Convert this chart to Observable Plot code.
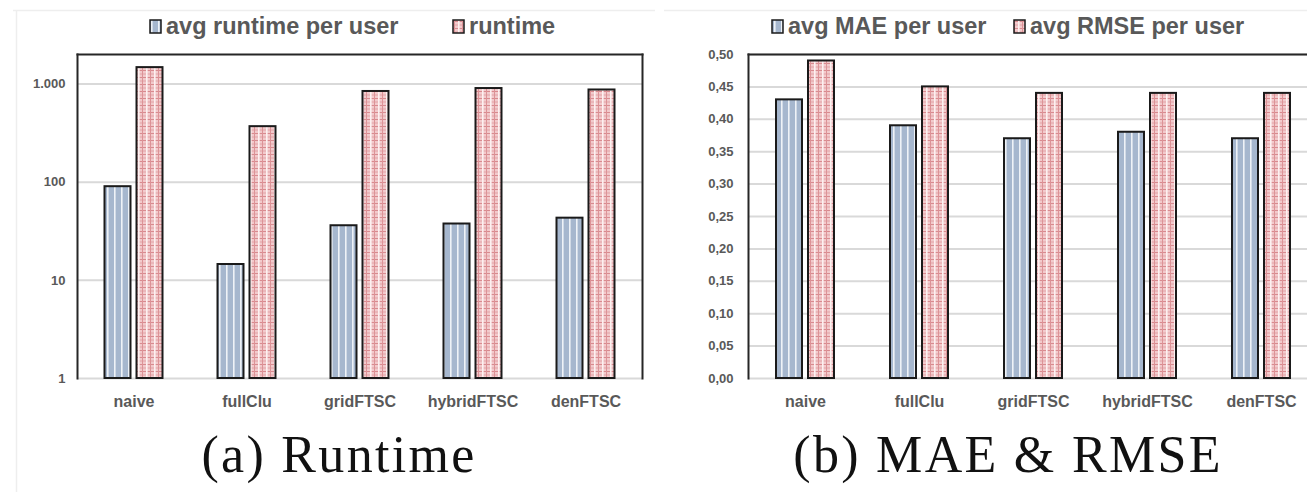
<!DOCTYPE html>
<html><head><meta charset="utf-8">
<script src="https://cdn.jsdelivr.net/npm/d3@7"></script>
<script src="https://cdn.jsdelivr.net/npm/@observablehq/plot@0.6"></script>
<style>
body{margin:0;background:#fff;}
#page{position:relative;width:1307px;height:492px;overflow:hidden;background:#fff;}
#page > svg.chart{position:absolute;top:0;}
.chart g[aria-label^="x-axis"] text{font-size:16px;font-weight:bold;fill:#595959;font-family:"Liberation Sans",Arial,sans-serif;}
.chart g[aria-label^="y-axis"] text{font-size:13px;font-weight:bold;fill:#595959;font-family:"Liberation Sans",Arial,sans-serif;}
</style></head><body>
<div id="page">
<svg width="0" height="0" style="position:absolute">
<defs>
<pattern id="patBlue" patternUnits="userSpaceOnUse" width="7" height="4">
<rect width="7" height="4" fill="#a6b7ce"/>
<rect x="4" width="1.6" height="4" fill="#eef2f7"/>
</pattern>
<pattern id="patRed" patternUnits="userSpaceOnUse" width="8" height="7">
<rect width="8" height="7" fill="#f2cacc"/>
<rect y="0" width="8" height="1" fill="#d98a8f"/>
<rect y="3.5" width="8" height="1" fill="#e3a3a6"/>
<rect x="2" width="1.6" height="7" fill="#fdf1f1"/>
<rect x="6" width="1" height="7" fill="#dc9397"/>
</pattern>
</defs></svg>
</div>
<script>
const categories = ["naive", "fullClu", "gridFTSC", "hybridFTSC", "denFTSC"];
const avgRuntimePerUser = [90, 14.5, 36, 37.5, 43];
const runtime = [1470, 368, 840, 900, 870];
const avgMAE = [0.43, 0.39, 0.37, 0.38, 0.37];
const avgRMSE = [0.49, 0.45, 0.44, 0.44, 0.44];
const runtimeTicks = [1, 10, 100, 1000];
const errorTicks = [0, 0.05, 0.10, 0.15, 0.20, 0.25, 0.30, 0.35, 0.40, 0.45, 0.50];

const page = document.getElementById("page");
const rowsA = categories.map((c, i) => ({cat: c, v: avgRuntimePerUser[i]}));
const rowsB = categories.map((c, i) => ({cat: c, v: runtime[i]}));
const rowsC = categories.map((c, i) => ({cat: c, v: avgMAE[i]}));
const rowsD = categories.map((c, i) => ({cat: c, v: avgRMSE[i]}));

const barStyle = {stroke: "#1a1a1a", strokeWidth: 2};

function chart(opts) {
  const inset = opts.inset;
  const svg = Plot.plot({
    width: opts.width, height: 420,
    marginLeft: opts.ml, marginRight: opts.mr, marginTop: 54, marginBottom: 42,
    style: {background: "transparent", overflow: "visible"},
    x: {type: "band", domain: categories, padding: 0, tickSize: 0, tickPadding: 17, label: null},
    y: Object.assign({label: null, tickSize: 0, tickPadding: opts.tp}, opts.y),
    marks: [
      Plot.ruleY(opts.ticks, {stroke: "#d9d9d9", strokeWidth: 2}),
      Plot.barY(opts.a, Object.assign({x: "cat", y1: opts.base, y2: "v", fill: "url(#patBlue)", insetLeft: inset, insetRight: inset, dx: -16}, barStyle)),
      Plot.barY(opts.b, Object.assign({x: "cat", y1: opts.base, y2: "v", fill: "url(#patRed)", insetLeft: inset, insetRight: inset, dx: 16}, barStyle)),
      Plot.frame({anchor: "top", stroke: "#262626", strokeWidth: 2}),
      Plot.frame({anchor: "left", stroke: "#262626", strokeWidth: 2}),
      Plot.frame({anchor: "right", stroke: "#262626", strokeWidth: 2})
    ]
  });
  svg.classList.add("chart");
  svg.style.left = opts.left + "px";
  page.appendChild(svg);
}

chart({
  left: 0, width: 660, ml: 77, mr: 18, tp: 12, inset: 43.5, base: 1,
  a: rowsA, b: rowsB, ticks: runtimeTicks,
  y: {type: "log", domain: [1, 2000], ticks: runtimeTicks, tickFormat: d => d3.format(",")(d).replace(/,/g, ".")}
});
chart({
  left: 660, width: 670, ml: 88, mr: 12, tp: 15, inset: 44, base: 0,
  a: rowsC, b: rowsD, ticks: errorTicks,
  y: {type: "linear", domain: [0, 0.5], ticks: errorTicks, tickFormat: d => d.toFixed(2).replace(".", ",")}
});

// legends, captions and panel outlines
const ns = "http://www.w3.org/2000/svg";
const ov = document.createElementNS(ns, "svg");
ov.setAttribute("width", 1307); ov.setAttribute("height", 492);
ov.style.position = "absolute"; ov.style.left = "0"; ov.style.top = "0"; ov.style.pointerEvents = "none";
page.appendChild(ov);
function el(tag, attrs, text) {
  const e = document.createElementNS(ns, tag);
  for (const k in attrs) e.setAttribute(k, attrs[k]);
  if (text != null) e.textContent = text;
  ov.appendChild(e);
  return e;
}
el("line", {x1: 13, x2: 655, y1: 10.5, y2: 10.5, stroke: "#eeeeee", "stroke-width": 1.5});
el("line", {x1: 16.5, x2: 16.5, y1: 10, y2: 492, stroke: "#eeeeee", "stroke-width": 1.5});
el("line", {x1: 664, x2: 1307, y1: 10.5, y2: 10.5, stroke: "#eeeeee", "stroke-width": 1.5});

const legendItems = [
  {x: 150, fill: "url(#patBlue)", label: "avg runtime per user"},
  {x: 453, fill: "url(#patRed)", label: "runtime"},
  {x: 772, fill: "url(#patBlue)", label: "avg MAE per user"},
  {x: 1014, fill: "url(#patRed)", label: "avg RMSE per user"}
];
for (const it of legendItems) {
  el("rect", {x: it.x, y: 20, width: 11, height: 13, fill: it.fill, stroke: "#1a1a1a", "stroke-width": 1.5});
  el("text", {x: it.x + 16, y: 34, fill: "#595959", "font-family": "Liberation Sans, Arial, sans-serif", "font-weight": "bold", "font-size": 23.5}, it.label);
}
const captions = [
  {x: 339, label: "(a) Runtime"},
  {x: 1008, label: "(b) MAE & RMSE"}
];
for (const c of captions) {
  el("text", {x: c.x, y: 472, "text-anchor": "middle", fill: "#111", "font-family": "Liberation Serif, Times New Roman, serif", "font-size": 52, "letter-spacing": 2.3}, c.label);
}
</script>
</body></html>
